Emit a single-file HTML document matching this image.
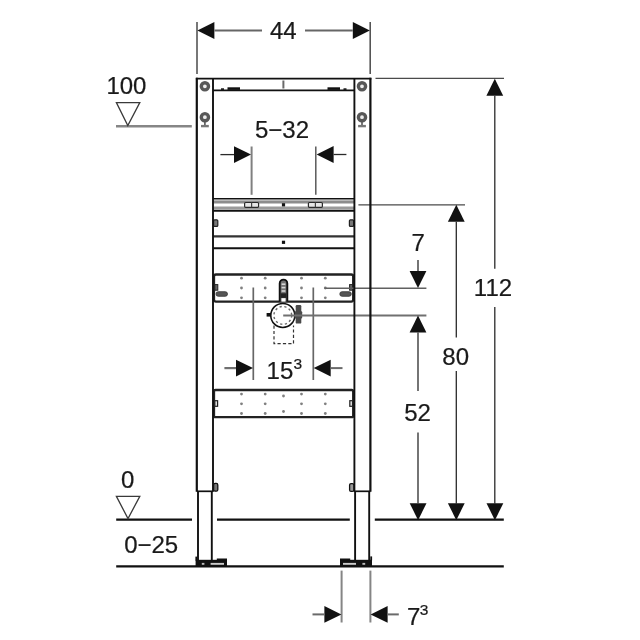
<!DOCTYPE html>
<html lang="en">
<head>
<meta charset="utf-8">
<title>Dimension drawing</title>
<style>
html,body{margin:0;padding:0;background:#fff;}
body{width:640px;height:640px;overflow:hidden;}
svg{display:block;filter:grayscale(1);}
svg text{font-family:"Liberation Sans",sans-serif;fill:#1a1a1a;stroke:#1a1a1a;stroke-width:0.22px;}
</style>
</head>
<body>
<svg width="640" height="640" viewBox="0 0 640 640">
<rect x="0" y="0" width="640" height="640" fill="#ffffff"/>
<line x1="283.4" y1="80.5" x2="283.4" y2="88.5" stroke="#6a6a6a" stroke-width="2.0" />
<rect x="227.5" y="87.3" width="12.5" height="2.6" fill="#111" stroke="none" stroke-width="0" rx="0" />
<rect x="221" y="88.3" width="3" height="1.6" fill="#111" stroke="none" stroke-width="0" rx="0" />
<rect x="327.5" y="87.3" width="12.5" height="2.6" fill="#111" stroke="none" stroke-width="0" rx="0" />
<rect x="343.5" y="88.3" width="3" height="1.6" fill="#111" stroke="none" stroke-width="0" rx="0" />
<circle cx="204.9" cy="86.3" r="3.6" fill="#eee" stroke="#585858" stroke-width="3.4" />
<circle cx="204.9" cy="117.2" r="3.6" fill="#eee" stroke="#585858" stroke-width="3.4" />
<line x1="204.9" y1="121.5" x2="204.9" y2="125" stroke="#555" stroke-width="1.6" />
<rect x="201.0" y="124.9" width="7.8" height="2.4" fill="#777" stroke="none" stroke-width="0" rx="0" />
<circle cx="362.0" cy="86.3" r="3.6" fill="#eee" stroke="#585858" stroke-width="3.4" />
<circle cx="362.0" cy="117.2" r="3.6" fill="#eee" stroke="#585858" stroke-width="3.4" />
<line x1="362.0" y1="121.5" x2="362.0" y2="125" stroke="#555" stroke-width="1.6" />
<rect x="358.1" y="124.9" width="7.8" height="2.4" fill="#777" stroke="none" stroke-width="0" rx="0" />
<rect x="213.0" y="200.4" width="141.39999999999998" height="3.1" fill="#8c8c8c" stroke="none" stroke-width="0" rx="0" />
<rect x="213.0" y="206.5" width="141.39999999999998" height="2.8" fill="#9a9a9a" stroke="none" stroke-width="0" rx="0" />
<line x1="213.0" y1="198.8" x2="354.4" y2="198.8" stroke="#111" stroke-width="1.6" />
<line x1="213.0" y1="210.8" x2="354.4" y2="210.8" stroke="#111" stroke-width="1.9" />
<rect x="244.6" y="202.5" width="14" height="4.8" fill="#e6e6e6" stroke="#2a2a2a" stroke-width="1.2" rx="1" />
<rect x="308.4" y="202.5" width="14" height="4.8" fill="#e6e6e6" stroke="#2a2a2a" stroke-width="1.2" rx="1" />
<line x1="251.6" y1="202.5" x2="251.6" y2="207.3" stroke="#444" stroke-width="1.2" />
<line x1="315.4" y1="202.5" x2="315.4" y2="207.3" stroke="#444" stroke-width="1.2" />
<rect x="281.9" y="203.2" width="3.2" height="3.2" fill="#111" stroke="none" stroke-width="0" rx="0" />
<rect x="213.6" y="219.8" width="4.2" height="6.6" fill="#777" stroke="#222" stroke-width="1.2" rx="1" />
<rect x="349.4" y="219.8" width="4.2" height="6.6" fill="#777" stroke="#222" stroke-width="1.2" rx="1" />
<line x1="213.0" y1="236.3" x2="354.4" y2="236.3" stroke="#333" stroke-width="2.3" />
<line x1="213.0" y1="248.2" x2="354.4" y2="248.2" stroke="#111" stroke-width="1.9" />
<rect x="281.9" y="240.7" width="3.2" height="3.2" fill="#111" stroke="none" stroke-width="0" rx="0" />
<rect x="214.0" y="274.5" width="139.2" height="27.1" fill="none" stroke="#222" stroke-width="2.3" rx="2" />
<rect x="214.8" y="284.6" width="3.0" height="5.6" fill="#666" stroke="#222" stroke-width="1" rx="0" />
<rect x="349.6" y="284.6" width="3.0" height="5.6" fill="#666" stroke="#222" stroke-width="1" rx="0" />
<rect x="216" y="291.7" width="11.5" height="4.6" fill="#555" stroke="#333" stroke-width="0.8" rx="2.3" />
<rect x="339.8" y="291.7" width="11.5" height="4.6" fill="#555" stroke="#333" stroke-width="0.8" rx="2.3" />
<circle cx="241.5" cy="278.2" r="1.4" fill="#808080" stroke="none" stroke-width="0" />
<circle cx="241.5" cy="288" r="1.4" fill="#808080" stroke="none" stroke-width="0" />
<circle cx="241.5" cy="297.8" r="1.4" fill="#808080" stroke="none" stroke-width="0" />
<circle cx="265.2" cy="278.2" r="1.4" fill="#808080" stroke="none" stroke-width="0" />
<circle cx="265.2" cy="288" r="1.4" fill="#808080" stroke="none" stroke-width="0" />
<circle cx="265.2" cy="297.8" r="1.4" fill="#808080" stroke="none" stroke-width="0" />
<circle cx="301.5" cy="278.2" r="1.4" fill="#808080" stroke="none" stroke-width="0" />
<circle cx="301.5" cy="288" r="1.4" fill="#808080" stroke="none" stroke-width="0" />
<circle cx="301.5" cy="297.8" r="1.4" fill="#808080" stroke="none" stroke-width="0" />
<circle cx="325.3" cy="278.2" r="1.4" fill="#808080" stroke="none" stroke-width="0" />
<circle cx="325.3" cy="288" r="1.4" fill="#808080" stroke="none" stroke-width="0" />
<circle cx="325.3" cy="297.8" r="1.4" fill="#808080" stroke="none" stroke-width="0" />
<rect x="214.0" y="390.0" width="139.2" height="27.2" fill="none" stroke="#222" stroke-width="2.3" rx="1.5" />
<rect x="214.8" y="400.7" width="2.8" height="5.6" fill="#ddd" stroke="#222" stroke-width="1.2" rx="0" />
<rect x="349.8" y="400.7" width="2.8" height="5.6" fill="#ddd" stroke="#222" stroke-width="1.2" rx="0" />
<circle cx="241.5" cy="394.1" r="1.4" fill="#808080" stroke="none" stroke-width="0" />
<circle cx="241.5" cy="403.8" r="1.4" fill="#808080" stroke="none" stroke-width="0" />
<circle cx="241.5" cy="413.5" r="1.4" fill="#808080" stroke="none" stroke-width="0" />
<circle cx="265.2" cy="394.1" r="1.4" fill="#808080" stroke="none" stroke-width="0" />
<circle cx="265.2" cy="403.8" r="1.4" fill="#808080" stroke="none" stroke-width="0" />
<circle cx="265.2" cy="413.5" r="1.4" fill="#808080" stroke="none" stroke-width="0" />
<circle cx="301.5" cy="394.1" r="1.4" fill="#808080" stroke="none" stroke-width="0" />
<circle cx="301.5" cy="403.8" r="1.4" fill="#808080" stroke="none" stroke-width="0" />
<circle cx="301.5" cy="413.5" r="1.4" fill="#808080" stroke="none" stroke-width="0" />
<circle cx="325.3" cy="394.1" r="1.4" fill="#808080" stroke="none" stroke-width="0" />
<circle cx="325.3" cy="403.8" r="1.4" fill="#808080" stroke="none" stroke-width="0" />
<circle cx="325.3" cy="413.5" r="1.4" fill="#808080" stroke="none" stroke-width="0" />
<circle cx="283.5" cy="396" r="1.4" fill="#808080" stroke="none" stroke-width="0" />
<circle cx="283.5" cy="411.5" r="1.4" fill="#808080" stroke="none" stroke-width="0" />
<path d="M279.7,301.4 V283.4 a3.8,3.8 0 0 1 7.6,0 V301.4" fill="#747474" stroke="#111" stroke-width="1.9"/>
<rect x="281.6" y="283.4" width="3.8" height="1.6" fill="#d8d8d8" stroke="none" stroke-width="0" rx="0" />
<rect x="281.6" y="286.8" width="3.8" height="1.6" fill="#d8d8d8" stroke="none" stroke-width="0" rx="0" />
<rect x="281.6" y="290.2" width="3.8" height="1.6" fill="#d8d8d8" stroke="none" stroke-width="0" rx="0" />
<rect x="280.6" y="293.3" width="5.8" height="4.6" fill="#222" stroke="none" stroke-width="0" rx="0" />
<rect x="281.5" y="298.2" width="4" height="3.4" fill="#fff" stroke="none" stroke-width="0" rx="0" />
<path d="M274,325.5 V343.6 H293.5 V325.5" fill="none" stroke="#333" stroke-width="1.2" stroke-dasharray="3.2 2.2"/>
<circle cx="282.8" cy="315.4" r="12.0" fill="#fff" stroke="#111" stroke-width="1.55" />
<circle cx="282.8" cy="315.4" r="8.9" fill="none" stroke="#6a6a6a" stroke-width="1.4" stroke-dasharray="2.2 2.6"/>
<rect x="266.6" y="313" width="4.4" height="3.6" fill="#111" stroke="none" stroke-width="0" rx="0" />
<rect x="295.7" y="305" width="5.6" height="18.6" fill="#4a4a4a" stroke="none" stroke-width="0" rx="1.2" />
<rect x="294.6" y="311.2" width="7.6" height="7.4" fill="#4a4a4a" stroke="none" stroke-width="0" rx="1" />
<line x1="197.0" y1="22" x2="197.0" y2="74" stroke="#555" stroke-width="1.6" />
<line x1="370.2" y1="22" x2="370.2" y2="74" stroke="#555" stroke-width="1.6" />
<polygon points="197.4,30.5 214.4,22.1 214.4,38.9" fill="#111" stroke="none" stroke-width="0"/>
<line x1="214.4" y1="30.5" x2="262" y2="30.5" stroke="#666" stroke-width="2.0" />
<polygon points="369.79999999999995,30.5 352.79999999999995,22.1 352.79999999999995,38.9" fill="#111" stroke="none" stroke-width="0"/>
<line x1="305" y1="30.5" x2="352.79999999999995" y2="30.5" stroke="#666" stroke-width="2.0" />
<text x="283.3" y="39.0" font-size="24" text-anchor="middle" >44</text>
<line x1="251.6" y1="146.5" x2="251.6" y2="194.8" stroke="#808080" stroke-width="2.0" />
<line x1="315.8" y1="146.5" x2="315.8" y2="194.8" stroke="#5a5a5a" stroke-width="1.5" />
<polygon points="251.0,154.6 234.0,146.2 234.0,163.0" fill="#111" stroke="none" stroke-width="0"/>
<line x1="220.4" y1="154.6" x2="234.0" y2="154.6" stroke="#2a2a2a" stroke-width="1.3" />
<polygon points="316.6,154.5 333.6,146.1 333.6,162.9" fill="#111" stroke="none" stroke-width="0"/>
<line x1="333.6" y1="154.5" x2="346.4" y2="154.5" stroke="#2a2a2a" stroke-width="1.3" />
<text x="282" y="138.4" font-size="24" text-anchor="middle" >5−32</text>
<line x1="253.3" y1="287.5" x2="253.3" y2="380" stroke="#666" stroke-width="1.7" />
<line x1="313.3" y1="287.5" x2="313.3" y2="380" stroke="#666" stroke-width="1.7" />
<polygon points="253,368.1 236,359.70000000000005 236,376.5" fill="#111" stroke="none" stroke-width="0"/>
<line x1="224.4" y1="368.1" x2="236" y2="368.1" stroke="#707070" stroke-width="2.2" />
<polygon points="313.7,368.1 330.7,359.70000000000005 330.7,376.5" fill="#111" stroke="none" stroke-width="0"/>
<line x1="330.7" y1="368.1" x2="342.5" y2="368.1" stroke="#6a6a6a" stroke-width="2.0" />
<text x="266.6" y="378.8" font-size="24" text-anchor="start" >15</text>
<text x="293.4" y="368.7" font-size="15.5" text-anchor="start" >3</text>
<line x1="341.6" y1="570.6" x2="341.6" y2="622.5" stroke="#858585" stroke-width="2.0" />
<line x1="370.4" y1="570.6" x2="370.4" y2="622.5" stroke="#858585" stroke-width="2.0" />
<polygon points="341.4,614.4 324.4,606.0 324.4,622.8" fill="#111" stroke="none" stroke-width="0"/>
<line x1="312.5" y1="614.4" x2="324.4" y2="614.4" stroke="#6a6a6a" stroke-width="2.0" />
<polygon points="370.6,614.4 387.6,606.0 387.6,622.8" fill="#111" stroke="none" stroke-width="0"/>
<line x1="387.6" y1="614.4" x2="398.8" y2="614.4" stroke="#6a6a6a" stroke-width="2.0" />
<text x="406.9" y="625.2" font-size="24" text-anchor="start" >7</text>
<text x="419.8" y="615.3" font-size="15.5" text-anchor="start" >3</text>
<line x1="375.5" y1="78.4" x2="504" y2="78.4" stroke="#4a4a4a" stroke-width="1.2" />
<line x1="358.4" y1="204.8" x2="465" y2="204.8" stroke="#4a4a4a" stroke-width="1.2" />
<line x1="324.5" y1="288.2" x2="426.4" y2="288.2" stroke="#606060" stroke-width="1.6" />
<line x1="283.2" y1="315.5" x2="426.4" y2="315.5" stroke="#707070" stroke-width="1.8" />
<polygon points="494.8,78.8 486.40000000000003,95.8 503.2,95.8" fill="#111" stroke="none" stroke-width="0"/>
<line x1="494.8" y1="95.8" x2="494.8" y2="268.8" stroke="#2a2a2a" stroke-width="1.3" />
<line x1="494.8" y1="307" x2="494.8" y2="503.5" stroke="#2a2a2a" stroke-width="1.3" />
<polygon points="494.9,520.2 486.5,503.20000000000005 503.29999999999995,503.20000000000005" fill="#111" stroke="none" stroke-width="0"/>
<line x1="494.9" y1="503.5" x2="494.9" y2="503.20000000000005" stroke="#2a2a2a" stroke-width="1.3" />
<text x="493" y="296.4" font-size="24" text-anchor="middle" >112</text>
<polygon points="456.3,204.8 447.90000000000003,221.8 464.7,221.8" fill="#111" stroke="none" stroke-width="0"/>
<line x1="456.3" y1="221.8" x2="456.3" y2="337.5" stroke="#2a2a2a" stroke-width="1.3" />
<line x1="456.3" y1="371" x2="456.3" y2="503.5" stroke="#2a2a2a" stroke-width="1.3" />
<polygon points="456.3,520.2 447.90000000000003,503.20000000000005 464.7,503.20000000000005" fill="#111" stroke="none" stroke-width="0"/>
<line x1="456.3" y1="503.5" x2="456.3" y2="503.20000000000005" stroke="#2a2a2a" stroke-width="1.3" />
<text x="455.7" y="365.1" font-size="24" text-anchor="middle" >80</text>
<polygon points="418,315.4 409.6,332.4 426.4,332.4" fill="#111" stroke="none" stroke-width="0"/>
<line x1="418" y1="332.4" x2="418" y2="391" stroke="#2a2a2a" stroke-width="1.3" />
<line x1="418" y1="432.5" x2="418" y2="503" stroke="#2a2a2a" stroke-width="1.3" />
<polygon points="418.1,520.2 409.70000000000005,503.20000000000005 426.5,503.20000000000005" fill="#111" stroke="none" stroke-width="0"/>
<line x1="418.1" y1="503.5" x2="418.1" y2="503.20000000000005" stroke="#2a2a2a" stroke-width="1.3" />
<text x="417.6" y="421.0" font-size="24" text-anchor="middle" >52</text>
<polygon points="418,288 409.6,271 426.4,271" fill="#111" stroke="none" stroke-width="0"/>
<line x1="418" y1="260" x2="418" y2="271" stroke="#2a2a2a" stroke-width="1.3" />
<text x="418.2" y="251.4" font-size="24" text-anchor="middle" >7</text>
<line x1="116.2" y1="519.6" x2="192" y2="519.6" stroke="#111" stroke-width="2.4" />
<line x1="217" y1="519.6" x2="349.8" y2="519.6" stroke="#111" stroke-width="2.4" />
<line x1="374.8" y1="519.6" x2="503.8" y2="519.6" stroke="#111" stroke-width="2.4" />
<line x1="116.2" y1="566.3" x2="503.8" y2="566.3" stroke="#111" stroke-width="2.3" />
<line x1="116" y1="126.3" x2="191.8" y2="126.3" stroke="#868686" stroke-width="2.6" />
<polygon points="116.4,102.6 139.8,102.6 127.8,125.6" fill="none" stroke="#3a3a3a" stroke-width="1.3"/>
<text x="126.4" y="94.4" font-size="24" text-anchor="middle" >100</text>
<polygon points="116.4,496.4 139.8,496.4 128,518.6" fill="none" stroke="#3a3a3a" stroke-width="1.3"/>
<text x="127.7" y="487.9" font-size="24" text-anchor="middle" >0</text>
<text x="151.2" y="552.7" font-size="24" text-anchor="middle" >0−25</text>
<line x1="196.8" y1="77.69999999999999" x2="196.8" y2="491.8" stroke="#111" stroke-width="2.2" />
<line x1="213.0" y1="78.6" x2="213.0" y2="491.8" stroke="#111" stroke-width="1.9" />
<line x1="354.4" y1="78.6" x2="354.4" y2="491.8" stroke="#111" stroke-width="1.9" />
<line x1="370.4" y1="77.69999999999999" x2="370.4" y2="491.8" stroke="#111" stroke-width="2.2" />
<line x1="195.9" y1="78.6" x2="371.29999999999995" y2="78.6" stroke="#111" stroke-width="1.9" />
<line x1="213.0" y1="90.4" x2="354.4" y2="90.4" stroke="#111" stroke-width="1.7" />
<line x1="196.8" y1="491.3" x2="213.0" y2="491.3" stroke="#111" stroke-width="1.7" />
<line x1="354.4" y1="491.3" x2="370.4" y2="491.3" stroke="#111" stroke-width="1.7" />
<line x1="198.0" y1="491" x2="198.0" y2="560" stroke="#111" stroke-width="1.9" />
<line x1="211.8" y1="491" x2="211.8" y2="560" stroke="#111" stroke-width="1.9" />
<line x1="355.1" y1="491" x2="355.1" y2="560" stroke="#111" stroke-width="1.9" />
<line x1="369.2" y1="491" x2="369.2" y2="560" stroke="#111" stroke-width="1.9" />
<rect x="213.6" y="483.4" width="4.2" height="7.8" fill="#777" stroke="#111" stroke-width="1.3" rx="1.5" />
<rect x="349.6" y="483.6" width="4.2" height="7.8" fill="#999" stroke="#111" stroke-width="1.3" rx="1.5" />
<rect x="195.6" y="559.8" width="31.4" height="7" fill="#111" stroke="none" stroke-width="0" rx="0" />
<rect x="216.8" y="558.5" width="10.2" height="2" fill="#111" stroke="none" stroke-width="0" rx="0" />
<rect x="195.4" y="556.6" width="1.8" height="4" fill="#111" stroke="none" stroke-width="0" rx="0" />
<rect x="201.8" y="562.9" width="2.6" height="1.9" fill="#bbb" stroke="none" stroke-width="0" rx="0" />
<rect x="210.6" y="562.9" width="13.4" height="1.9" fill="#ccc" stroke="none" stroke-width="0" rx="0" />
<rect x="340" y="559.8" width="32" height="7" fill="#111" stroke="none" stroke-width="0" rx="0" />
<rect x="340" y="558.5" width="10.2" height="2" fill="#111" stroke="none" stroke-width="0" rx="0" />
<rect x="370.3" y="556.4" width="1.8" height="4" fill="#111" stroke="none" stroke-width="0" rx="0" />
<rect x="362.4" y="562.9" width="2.8" height="1.9" fill="#bbb" stroke="none" stroke-width="0" rx="0" />
<rect x="343" y="562.9" width="13" height="1.9" fill="#ccc" stroke="none" stroke-width="0" rx="0" />
</svg>
</body>
</html>
